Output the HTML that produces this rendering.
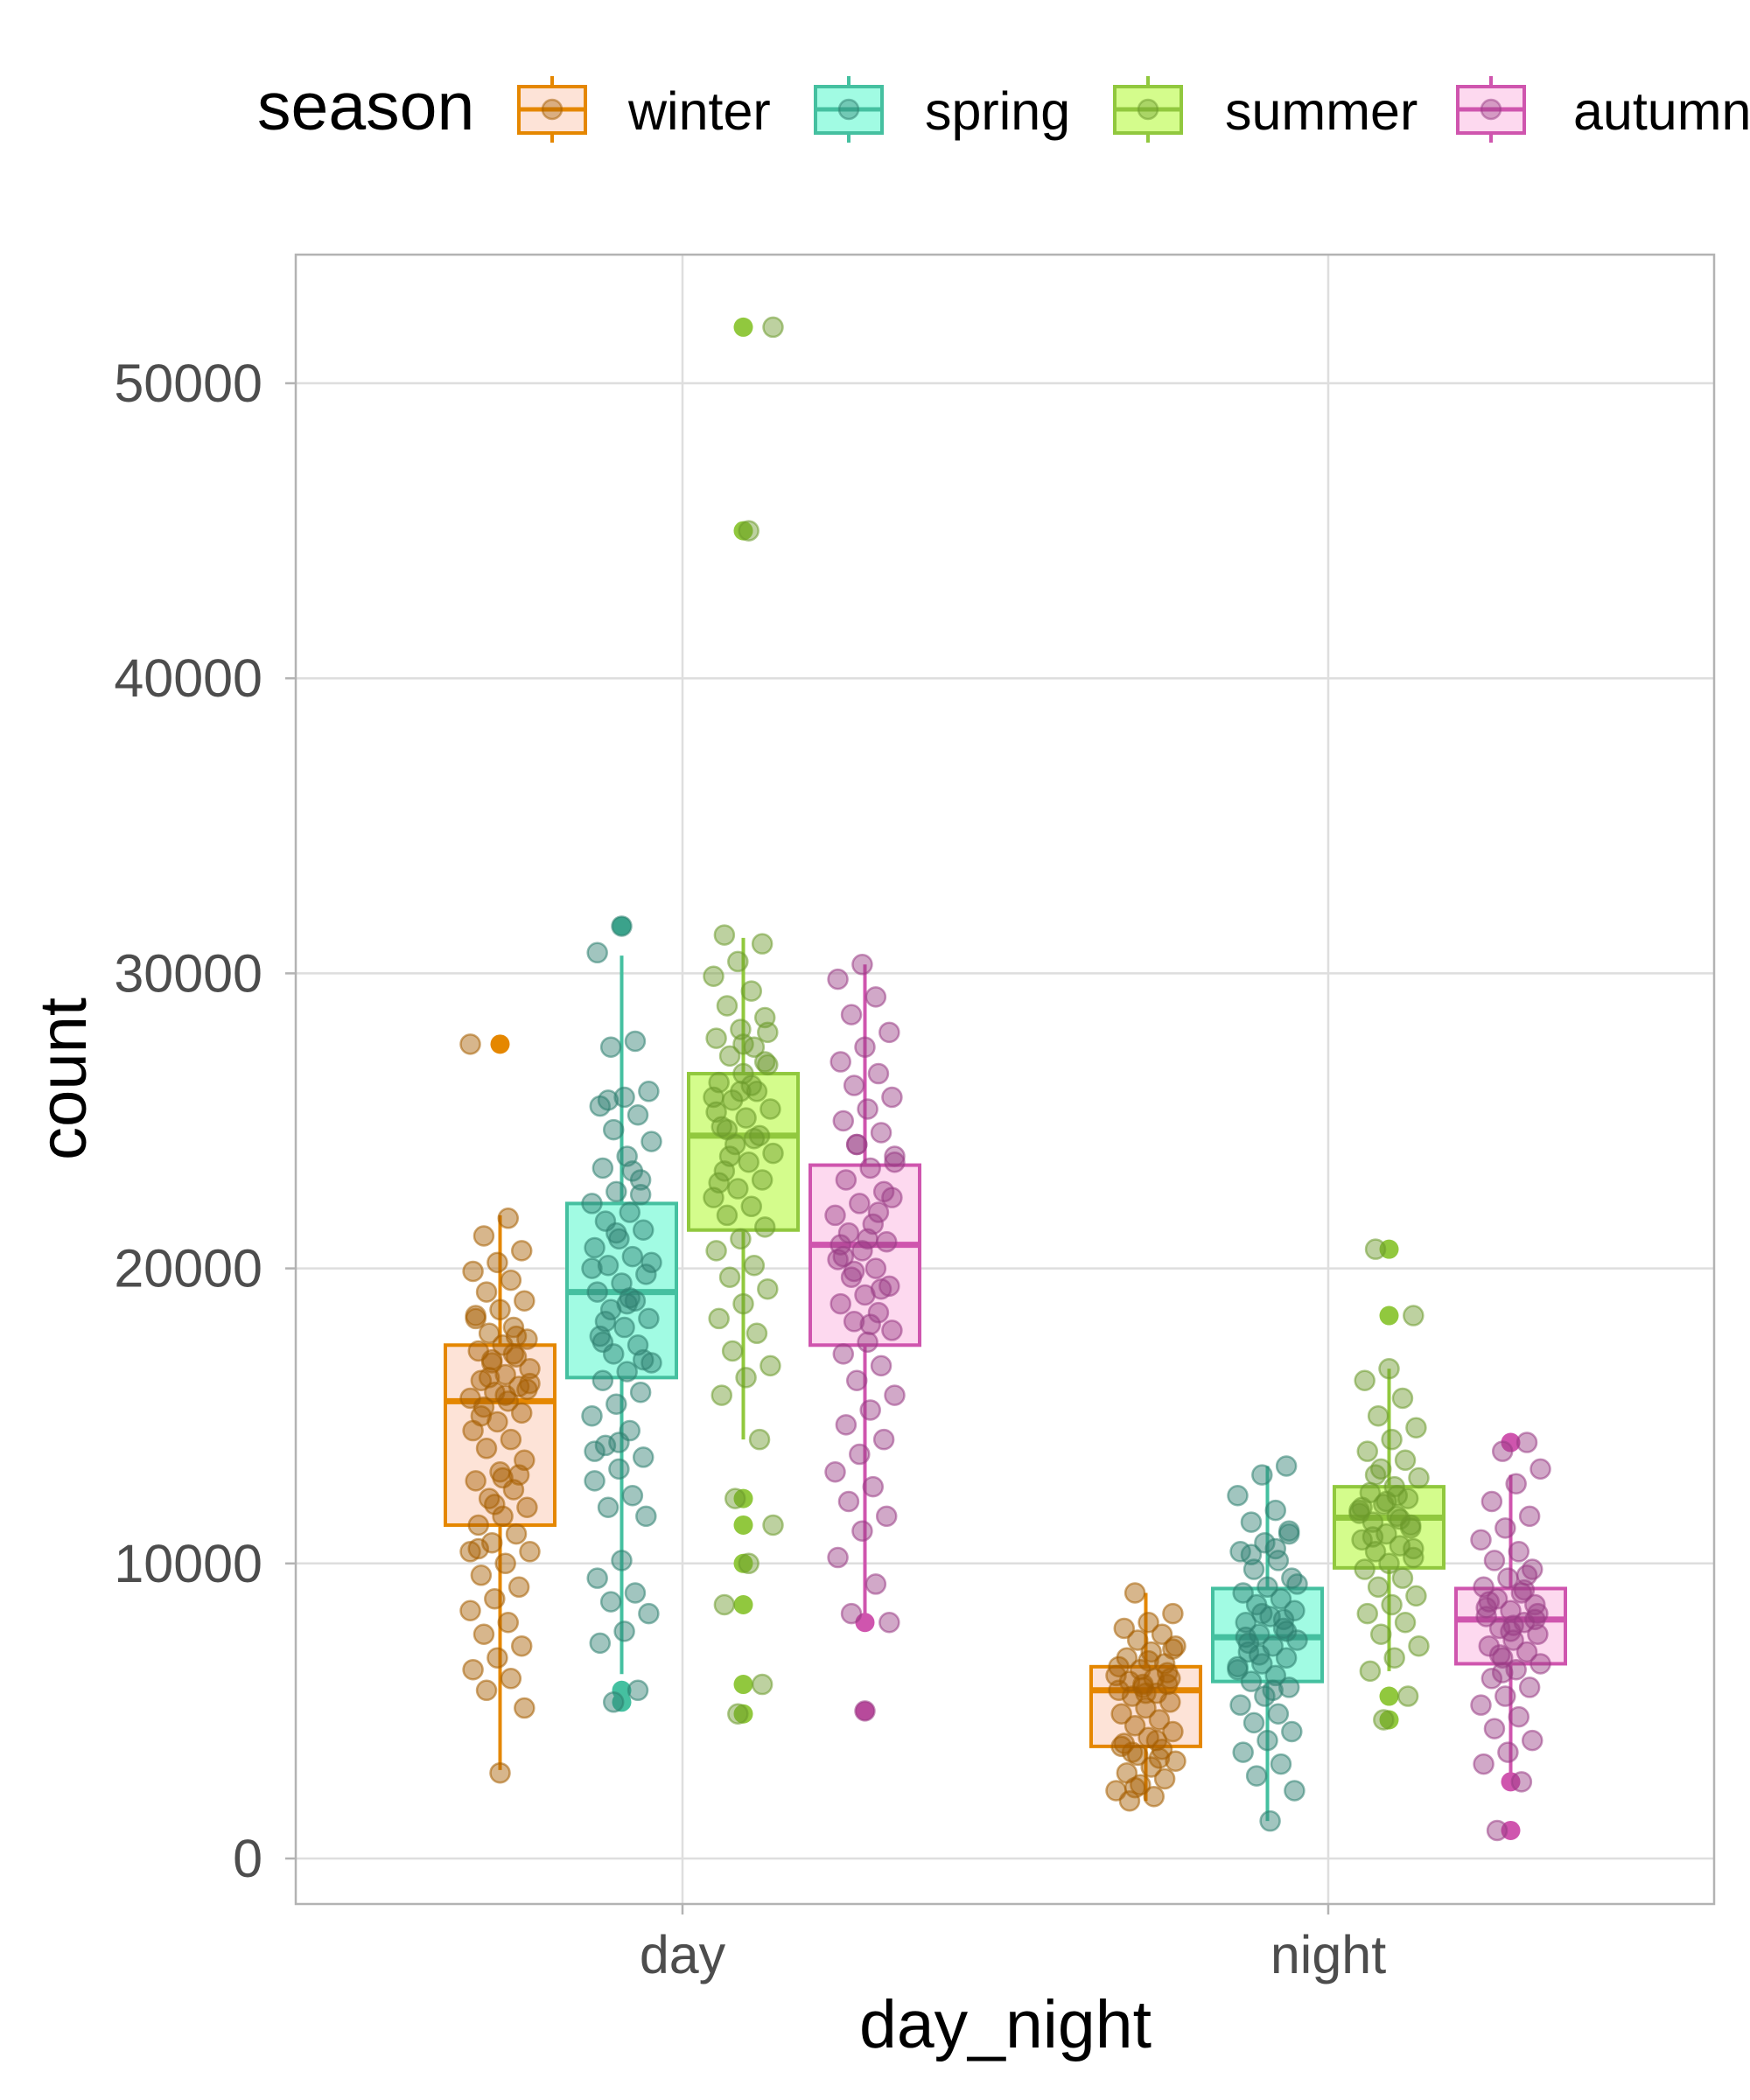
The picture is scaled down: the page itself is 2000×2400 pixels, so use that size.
<!DOCTYPE html>
<html><head><meta charset="utf-8"><style>
html,body{margin:0;padding:0;background:#fff;}
svg{display:block;font-family:"Liberation Sans",Arial,sans-serif;}
</style></head><body>
<svg id="chart" width="2000" height="2400" viewBox="0 0 2000 2400">
<rect width="2000" height="2400" fill="#fff"/>
<g id="grid"></g>
<g id="marks"></g>
<rect x="338" y="291" width="1621" height="1885" fill="none" stroke="#B3B3B3" stroke-width="2.5"/>
<g id="axes"></g>
<g id="legend"></g>
<text x="1149" y="2340" font-size="77" text-anchor="middle" fill="#000">day_night</text>
<text transform="translate(98,1233) rotate(-90)" font-size="76" text-anchor="middle" fill="#000">count</text>
</svg>
<script>
const categories = ["day","night"];
const seasons = ["winter","spring","summer","autumn"];
const yTicks = [0,10000,20000,30000,40000,50000];
// box stats per [category][season]: [lowWhisker, q1, median, q3, highWhisker]
const boxDay = [[3000,11300,15500,17400,21800],[6250,16300,19200,22200,30600],[14200,21300,24500,26600,31200],[8000,17400,20800,23500,30300]];
const boxNight = [[1950,3800,5700,6500,9000],[1270,6000,7500,9150,13300],[6350,9850,11550,12600,16600],[2600,6600,8100,9150,13000]];
const outDay = [[27600],[31600,5700,5300],[51900,45000,12200,11300,10000,8600,5900,4900],[8000,5000]];
const outNight = [[],[],[20650,18400,5500,4700],[14100,950,2600]];
const ptsDay = [
[27600,21700,21100,20600,20200,19900,19600,19200,18900,18600,18300,18000,17800,17600,17400,17200,17000,16800,16600,16400,16200,16000,15800,15600,15500,15300,15100,14800,14500,14200,13900,13500,13100,12800,12500,12200,11900,11600,11300,11000,10700,10400,10000,9600,9200,8800,8400,8000,7600,7200,6800,6400,6100,5700,5100,2900,18400,17100,16300,15900,12900,10500,17700,16900,16100,15700,15000,13000,12000,10400],
[31600,30700,27700,27500,26000,25800,25500,25200,24700,24300,23800,23400,23000,22600,22200,21900,21600,21300,21000,20700,20400,20100,19800,19500,19200,18900,18600,18300,18000,17700,17400,17100,16800,16500,16200,15800,15400,15000,14500,14000,13600,13200,12800,12300,11900,11600,10100,9500,9000,8700,8300,7700,7300,5700,5300,20200,18800,17500,22500,21200,20000,19000,18200,16900,14100,13800,23300,25700],
[51900,45000,31300,31000,30400,29900,29400,28900,28500,28100,27800,27500,27200,26900,26600,26300,26000,25700,25400,25100,24800,24500,24200,23900,23600,23300,23000,22700,22400,22100,21800,21400,21000,20600,20100,19700,19300,18800,18300,17800,17200,16700,16300,15700,14200,12200,11300,10000,8600,5900,4900,25800,26200,24700,27000,26000,25300,24400,23800,28000,27600,22900],
[30300,29800,29200,28600,28000,27500,27000,26600,26200,25800,25400,25000,24600,24200,23800,23400,23000,22600,22200,21800,21500,21200,20900,20600,20300,20000,19700,19400,19100,18800,18500,18200,17900,17500,17100,16700,16200,15700,15200,14700,14200,13700,13100,12600,12100,11600,11100,10200,9300,8300,8000,5000,20800,21900,19900,22400,21000,20400,19300,24200,23600,18100]
];
const ptsNight = [
[9000,8300,8000,7800,7600,7400,7200,7000,6800,6600,6400,6200,6100,6000,5900,5800,5700,5600,5500,5300,5100,4900,4700,4500,4300,4100,3900,3700,3500,3300,3100,2900,2700,2500,2300,2100,1950,6300,5900,6500,4000,3600,6100,5600,3800,3400,2400,7100,6700],
[13300,13000,12300,11800,11400,11000,10700,10400,10100,9800,9500,9200,9000,8800,8600,8400,8200,8000,7800,7600,7400,7200,7000,6800,6600,6400,6200,6000,5800,5500,5200,4900,4600,4300,4000,3600,3200,2800,2300,1270,7500,8100,6900,9300,5700,7300,7700,8300,6500,10500,10300,11100],
[20650,18400,16600,16200,15600,15000,14600,14200,13800,13500,13200,12900,12600,12400,12200,12000,11800,11600,11400,11200,11000,10800,10600,10400,10200,10000,9800,9500,9200,8900,8600,8300,8000,7600,7200,6800,6350,5500,4700,11700,12300,10900,11300,12100,11900,11500,13000,10500],
[14100,13800,13200,12700,12100,11600,11200,10800,10400,10100,9800,9500,9200,9000,8800,8600,8400,8200,8000,7800,7600,7400,7200,7000,6800,6600,6400,6100,5800,5500,5200,4800,4400,4000,3600,3200,2600,950,8100,7700,8500,9100,6900,8300,7900,8700,9600,6300]
];
const lineCol = ["#E58700","#45C0A0","#91C83E","#CF55AE"];
const fillCol = ["#FDE3D7","#A1FBE3","#D4FC8C","#FDD9EF"];
const ptCol = ["#A65E00","#2E7F70","#6C9A2C","#993D85"];

const NS="http://www.w3.org/2000/svg";
const y = v => 2124 - v*(2124-438)/50000;
const xCat = i => [780,1518][i];
const xDodge = (i,s) => xCat(i) + (s-1.5)*139;
const BW = 125;
function mk(tag,attrs,parent){const e=document.createElementNS(NS,tag);for(const k in attrs)e.setAttribute(k,attrs[k]);parent.appendChild(e);return e;}
const grid=document.getElementById('grid'),marks=document.getElementById('marks'),axes=document.getElementById('axes'),legend=document.getElementById('legend');

yTicks.forEach(t=>{
  const g=mk('line',{x1:338,x2:1959,y1:y(t),y2:y(t),stroke:'#DEDEDE','stroke-width':2.5},grid);
  
  
  const tk=mk('line',{x1:326,x2:338,y1:y(t),y2:y(t),stroke:'#B3B3B3','stroke-width':2.5},axes);
  
  
  const tx=mk('text',{x:300,y:y(t)+21,'font-size':61,'text-anchor':'end',fill:'#4D4D4D'},axes);
  tx.textContent=String(t);
  
  
});
categories.forEach((c,i)=>{
  const g=mk('line',{x1:xCat(i),x2:xCat(i),y1:291,y2:2176,stroke:'#DEDEDE','stroke-width':2.5},grid);
  
  
  const tk=mk('line',{x1:xCat(i),x2:xCat(i),y1:2176,y2:2188,stroke:'#B3B3B3','stroke-width':2.5},axes);
  
  
  const tx=mk('text',{x:xCat(i),y:2255,'font-size':61,'text-anchor':'middle',fill:'#4D4D4D'},axes);
  tx.textContent=c;
  
  
});

const boxes=[boxDay,boxNight], outs=[outDay,outNight], pts=[ptsDay,ptsNight];
categories.forEach((c,ci)=>{
  seasons.forEach((s,si)=>{
    const cx=xDodge(ci,si), b=boxes[ci][si];
    const g=mk('g',{},marks);
    
    
    const w1=mk('line',{x1:cx,x2:cx,y1:y(b[0]),y2:y(b[1]),stroke:lineCol[si],'stroke-width':4},g);
    
    
    const w2=mk('line',{x1:cx,x2:cx,y1:y(b[3]),y2:y(b[4]),stroke:lineCol[si],'stroke-width':4},g);
    
    
    const r=mk('rect',{x:cx-BW/2,y:y(b[3]),width:BW,height:y(b[1])-y(b[3]),fill:fillCol[si],stroke:lineCol[si],'stroke-width':4},g);
    
    
    const m=mk('line',{x1:cx-BW/2,x2:cx+BW/2,y1:y(b[2]),y2:y(b[2]),stroke:lineCol[si],'stroke-width':7},g);
    
    
    outs[ci][si].forEach(v=>{
      const o=mk('circle',{cx:cx,cy:y(v),r:11,fill:lineCol[si]},g);
      
      
    });
    pts[ci][si].forEach((v,k)=>{
      const jit=(((k*37+si*11+ci*7)%23)/22-0.5)*68;
      const p=mk('circle',{cx:cx+jit,cy:y(v),r:11,fill:ptCol[si],'fill-opacity':0.45,stroke:ptCol[si],'stroke-opacity':0.55,'stroke-width':2.5},g);
      
      
    });
  });
});

const lt=mk('text',{x:294,y:148,'font-size':77,fill:'#000'},legend);
lt.textContent='season';


const keyX=[593,932,1274,1666], labX=[718,1057,1400,1798];
seasons.forEach((s,si)=>{
  const g=mk('g',{},legend);
  
  
  const kx=keyX[si], cx=kx+38;
  mk('line',{x1:cx,x2:cx,y1:87,y2:163,stroke:lineCol[si],'stroke-width':4},g);
  mk('rect',{x:kx,y:99,width:76,height:53,fill:fillCol[si],stroke:lineCol[si],'stroke-width':4},g);
  mk('line',{x1:kx,x2:kx+76,y1:125,y2:125,stroke:lineCol[si],'stroke-width':5},g);
  mk('circle',{cx:cx,cy:125,r:11,fill:ptCol[si],'fill-opacity':0.4,stroke:ptCol[si],'stroke-opacity':0.5,'stroke-width':2.5},g);
  const t=mk('text',{x:labX[si],y:148,'font-size':61,fill:'#000'},g);
  t.textContent=s;
  
  
});
</script>
</body></html>
